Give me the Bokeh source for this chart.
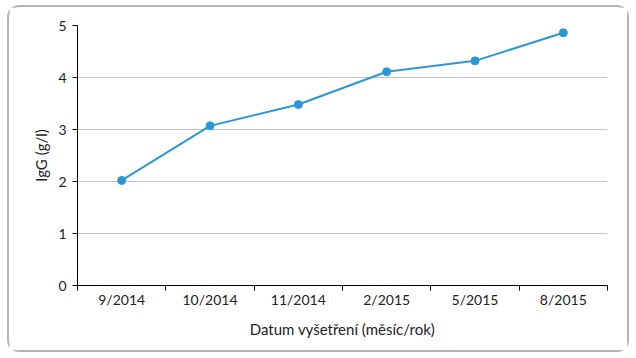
from bokeh.plotting import figure
from bokeh.models import FixedTicker, Range1d
from bokeh.embed import file_html
from bokeh.resources import INLINE

categories = ["9/2014", "10/2014", "11/2014", "2/2015", "5/2015", "8/2015"]
igg_values = [2.02, 3.07, 3.48, 4.11, 4.32, 4.86]
y_ticks = [0, 1, 2, 3, 4, 5]

xs = [i + 0.5 for i in range(len(categories))]

p = figure(width=622, height=347, output_backend="svg", toolbar_location=None,
           x_range=Range1d(0, len(categories)), y_range=Range1d(0, 5))
p.margin = (5, 0, 0, 7)
p.styles = {"border": "2px solid #b4b4b4", "border-radius": "12px", "box-sizing": "border-box"}
p.min_border_left = 68
p.min_border_right = 24
p.min_border_top = 18
p.min_border_bottom = 69
p.outline_line_color = None
p.background_fill_color = "white"
p.border_fill_color = "white"

p.line(xs, igg_values, line_color="#2d96d9", line_width=2)
p.scatter(xs, igg_values, size=8, fill_color="#2d96d9", line_color="#2d96d9")

font = "Lato"
p.xaxis.ticker = FixedTicker(ticks=xs, minor_ticks=list(range(len(categories) + 1)))
p.xaxis.major_label_overrides = {x: c for x, c in zip(xs, categories)}
p.xaxis.major_tick_out = 0
p.xaxis.major_tick_in = 0
p.xaxis.minor_tick_out = 5
p.xaxis.minor_tick_in = 0
p.xaxis.minor_tick_line_color = "black"
p.xaxis.axis_line_color = "black"
p.xaxis.axis_label = "Datum vyšetření (měsíc/rok)"
p.xaxis.major_label_standoff = 0
p.xaxis.axis_label_standoff = 9

p.yaxis.ticker = FixedTicker(ticks=y_ticks)
p.yaxis.major_tick_out = 5
p.yaxis.major_tick_in = 0
p.yaxis.minor_tick_line_color = None
p.yaxis.axis_line_color = "black"
p.yaxis.axis_label = "IgG (g/l)"
p.yaxis.major_label_standoff = 6

for ax in (p.xaxis, p.yaxis):
    ax.major_label_text_font = font
    ax.major_label_text_font_size = "14px"
    ax.major_label_text_color = "#222222"
    ax.axis_label_text_font = font
    ax.axis_label_text_font_size = "15px"
    ax.axis_label_text_font_style = "normal"
    ax.axis_label_text_color = "#222222"

p.xgrid.grid_line_color = None
p.ygrid.ticker = FixedTicker(ticks=y_ticks)
p.ygrid.grid_line_color = "#c4c4c4"

open("out.html", "w").write(file_html(p, INLINE))
